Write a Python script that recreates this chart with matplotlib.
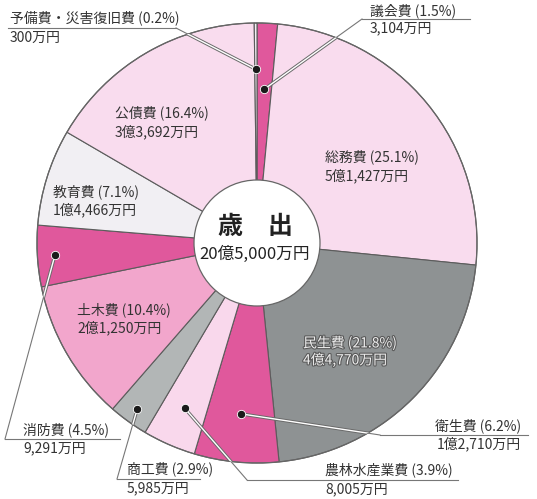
import numpy as np
import matplotlib
matplotlib.use('Agg')
import matplotlib.pyplot as plt
import matplotlib.patheffects as pe
from matplotlib.patches import Circle

plt.rcParams['font.family'] = ['Noto Sans CJK JP', 'DejaVu Sans']

# 歳出の内訳 (時計回り、12時から)
categories = ['議会費', '総務費', '民生費', '衛生費', '農林水産業費', '商工費',
              '土木費', '消防費', '教育費', '公債費', '予備費・災害復旧費']
shares = [1.5, 25.1, 21.8, 6.2, 3.9, 2.9, 10.4, 4.5, 7.1, 16.4, 0.2]
amounts = ['3,104万円', '5億1,427万円', '4億4,770万円', '1億2,710万円', '8,005万円',
           '5,985万円', '2億1,250万円', '9,291万円', '1億4,466万円', '3億3,692万円', '300万円']
total_label = '20億5,000万円'
title_label = '歳　出'

colors = ['#e0589c', '#f9dcee', '#8e9293', '#e0589c', '#f9d8ec', '#b2b6b6',
          '#f2a6cc', '#e0589c', '#f1eff3', '#f9dcee', '#f4eef4']

W, H = 537, 499
CX, CY, R, R_IN = 257, 243, 220, 63


def py(y):
    # pixel y (from top) -> axes y
    return H - y


fig = plt.figure(figsize=(W / 100, H / 100), dpi=100)
ax = fig.add_axes([0, 0, 1, 1])

wedges, _ = ax.pie(shares, colors=colors, startangle=90, counterclock=False,
                   center=(CX, py(CY)), radius=R, frame=True,
                   wedgeprops=dict(edgecolor='#5c5c5c', linewidth=0.8))
ax.add_patch(Circle((CX, py(CY)), R, fill=False, ec='#666666', lw=0.9, zorder=3))
ax.add_patch(Circle((CX, py(CY)), R_IN, fc='white', ec='#666666', lw=0.9, zorder=4))

ax.set_xlim(0, W)
ax.set_ylim(0, H)
ax.set_aspect('equal')
ax.axis('off')

txt = '#333333'
fs = 10

ax.text(CX - 2, py(227), title_label, ha='center', va='center', fontsize=18,
        fontweight='bold', color='#222222', zorder=5)
ax.text(CX - 2, py(254), total_label, ha='center', va='center', fontsize=12,
        color='#222222', zorder=5)

# 円内のラベル
inner = {'総務費': (325, 157, 176), '公債費': (115, 113, 132),
         '教育費': (53, 192, 210), '土木費': (77, 310, 328),
         '民生費': (303, 343, 360)}
for name, (x, y1, y2) in inner.items():
    i = categories.index(name)
    kw = dict(ha='left', va='center', fontsize=fs, color=txt, zorder=5)
    if name == '民生費':
        kw['color'] = '#eeeeee'
        kw['path_effects'] = [pe.withStroke(linewidth=1.6, foreground='#5a5a5a')]
    ax.text(x, py(y1), f'{name} ({shares[i]}%)', **kw)
    ax.text(x, py(y2), amounts[i], **kw)

# 引き出し線付きラベル: 点の半径比, テキストx, 1行目y, 2行目y, 下線y, 下線x範囲, 引き出し線の端, 揃え
outer = {
    '予備費・災害復旧費': (0.79, 10, 18, 38, 28, (8, 176), 176, 'left'),
    '議会費': (0.70, 370, 11, 28, 19, (362, 470), 362, 'left'),
    '衛生費': (0.78, 521, 426, 444, 435, (380, 528), 380, 'right'),
    '農林水産業費': (0.82, 325, 470, 489, 480, (247, 458), 247, 'left'),
    '商工費': (0.93, 127, 469, 488, 479, (117, 200), 117, 'left'),
    '消防費': (0.92, 23, 430, 448, 439, (5, 120), 5, 'left'),
}
cum = np.cumsum([0] + shares)
clip = Circle((CX, py(CY)), R, transform=ax.transData)
for name, (rf, tx, y1, y2, uy, (ux0, ux1), lx, ha) in outer.items():
    i = categories.index(name)
    mid = (cum[i] + cum[i + 1]) / 2 / 100 * 2 * np.pi
    dx = CX + rf * R * np.sin(mid)
    dy = py(CY) + rf * R * np.cos(mid)
    ax.plot([ux0, ux1], [py(uy), py(uy)], color='#777777', lw=0.8, zorder=5)
    ax.plot([dx, lx], [dy, py(uy)], color='#777777', lw=0.8, zorder=5)
    l1, = ax.plot([dx, lx], [dy, py(uy)], color='#6a6a6a', lw=2.4, zorder=5)
    l2, = ax.plot([dx, lx], [dy, py(uy)], color='white', lw=1.0, zorder=5)
    l1.set_clip_path(clip)
    l2.set_clip_path(clip)
    ax.scatter([dx], [dy], s=36, color='#1a1a1a', edgecolors='white', linewidths=0.6, zorder=6)
    ax.text(tx, py(y1), f'{name} ({shares[i]}%)', ha=ha, va='center', fontsize=fs, color=txt)
    ax.text(tx, py(y2), amounts[i], ha=ha, va='center', fontsize=fs, color=txt)

fig.savefig('out.png', dpi=100, facecolor='white')
